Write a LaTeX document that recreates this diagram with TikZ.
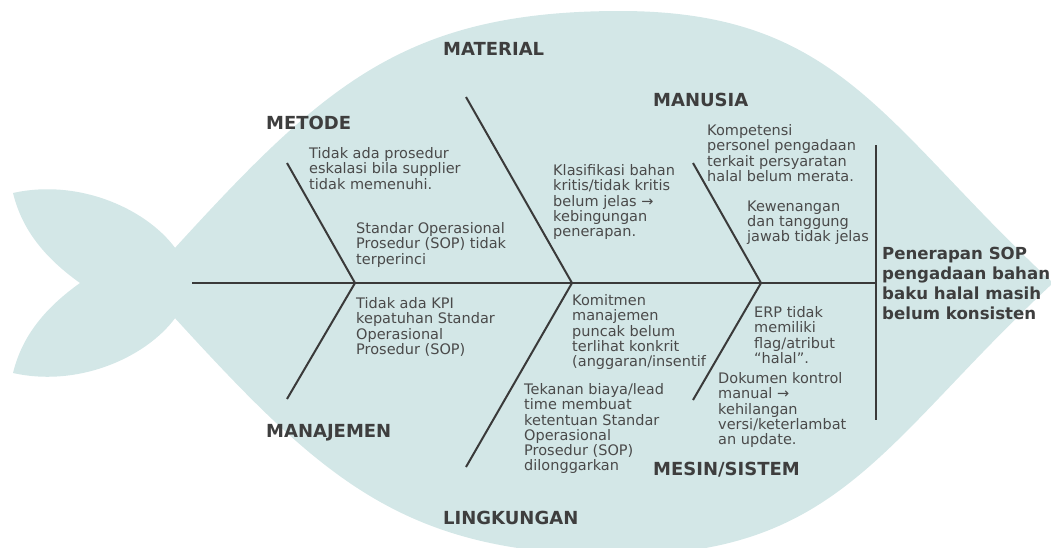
\documentclass[tikz,border=0pt]{standalone}
\usepackage{fontspec}
\setmainfont{DejaVu Sans}
\newfontfamily\dvfont{DejaVu Sans}
\definecolor{fishfill}{RGB}{211,231,231}
\definecolor{linec}{HTML}{3A3A3A}
\definecolor{titlec}{HTML}{3E3E3E}
\definecolor{textc}{HTML}{4A4A4A}
\tikzset{
  fishpart/.style={fill=fishfill, draw=none},
  spine/.style={draw=linec, line width=2.6pt},
  bone/.style={draw=linec, line width=2.0pt},
  headline/.style={draw=linec, line width=2.3pt},
  cat/.style={font=\dvfont\bfseries\fontsize{18}{20}\selectfont, text=titlec, inner sep=0pt, anchor=base west},
  cause/.style={font=\dvfont\fontsize{14.5}{15.2}\selectfont, text=textc, inner sep=0pt, anchor=north west, align=left},
  effect/.style={font=\dvfont\bfseries\fontsize{16.6}{20}\selectfont, text=titlec, inner sep=0pt, anchor=north west, align=left}
}
\begin{document}
\begin{tikzpicture}[x=1pt,y=-1pt]
\useasboundingbox (0,0) rectangle (1051,547);
\clip (0,0) rectangle (1051,547);
% tail
\path[fishpart] (80,283) .. controls (45,258) and (22,230) .. (13,193)
  .. controls (80,178) and (150,210) .. (178,252)
  -- (200,283) -- (178,314)
  .. controls (150,356) and (80,388) .. (13,373)
  .. controls (22,336) and (45,308) .. (80,283) -- cycle;
% body
\path[fishpart] (143,283) .. controls (313,96) and (390,11) .. (620,11)
  .. controls (840,11) and (883,125) .. (1053,283)
  .. controls (883,441) and (840,555) .. (620,555)
  .. controls (390,555) and (313,470) .. (143,283) -- cycle;
% skeleton coordinates
\coordinate (sp0) at (192,283);
\coordinate (hd) at (876,283);
\coordinate (hdtop) at (876,145);
\coordinate (hdbot) at (876,420);
\coordinate (j1) at (355,283);
\coordinate (j2) at (572,283);
\coordinate (j3) at (761,283);
\coordinate (b1u) at (287,163);
\coordinate (b1d) at (287,399);
\coordinate (b2u) at (466,97);
\coordinate (b2d) at (466,467);
\coordinate (b3u) at (693,163);
\coordinate (b3d) at (693,400);
\draw[spine] (sp0) -- (hd);
\draw[headline] (hdtop) -- (hdbot);
\draw[bone] (b1u) -- (j1) -- (b1d);
\draw[bone] (b2u) -- (j2) -- (b2d);
\draw[bone] (b3u) -- (j3) -- (b3d);
% categories
\node[cat] (material) at (443,55) {MATERIAL};
\node[cat] (manusia) at (653,106) {MANUSIA};
\node[cat] (metode) at (266,129.5) {METODE};
\node[cat] (manajemen) at (266,437) {MANAJEMEN};
\node[cat] (lingkungan) at (443,524) {LINGKUNGAN};
\node[cat] (mesin) at (653,475) {MESIN/SISTEM};
% causes
\node[cause] (t1) at (309,147.5) {Tidak ada prosedur\\eskalasi bila supplier\\tidak memenuhi.};
\node[cause] (t2) at (356,222.5) {Standar Operasional\\Prosedur (SOP) tidak\\terperinci};
\node[cause] (t3) at (553,164.5) {Klasifikasi bahan\\kritis/tidak kritis\\belum jelas →\\kebingungan\\penerapan.};
\node[cause] (t4) at (707,124.5) {Kompetensi\\personel pengadaan\\terkait persyaratan\\halal belum merata.};
\node[cause] (t5) at (747,200.5) {Kewenangan\\dan tanggung\\jawab tidak jelas};
\node[cause] (t6) at (356,297.5) {Tidak ada KPI\\kepatuhan Standar\\Operasional\\Prosedur (SOP)};
\node[cause] (t7) at (572,294.5) {Komitmen\\manajemen\\puncak belum\\terlihat konkrit\\(anggaran/insentif};
\node[cause] (t8) at (524,383.5) {Tekanan biaya/lead\\time membuat\\ketentuan Standar\\Operasional\\Prosedur (SOP)\\dilonggarkan};
\node[cause] (t9) at (754,306.5) {ERP tidak\\memiliki\\flag/atribut\\“halal”.};
\node[cause] (t10) at (718,372.5) {Dokumen kontrol\\manual →\\kehilangan\\versi/keterlambat\\an update.};
% effect
\node[effect] (eff) at (882,247) {Penerapan SOP\\pengadaan bahan\\baku halal masih\\belum konsisten};
\end{tikzpicture}
\end{document}
